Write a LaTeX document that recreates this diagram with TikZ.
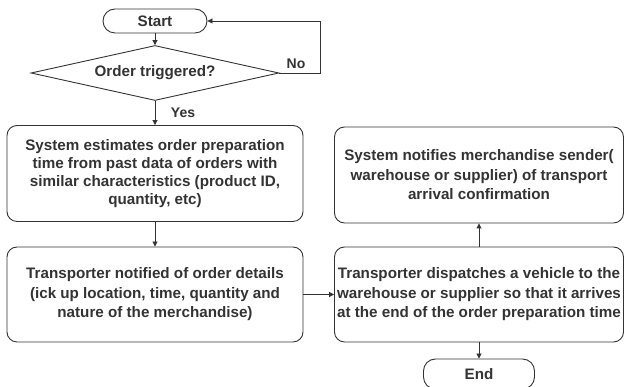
\documentclass[tikz,border=0pt]{standalone}
\usepackage{fontspec}
\setmainfont{Liberation Sans}
\usetikzlibrary{shapes.geometric,arrows.meta}
\definecolor{ink}{HTML}{333333}
\begin{document}
\begin{tikzpicture}[x=1pt,y=1pt,
  every node/.style={text=ink, font=\bfseries\fontsize{15.2}{19.5}\selectfont},
  proc/.style={draw=ink, line width=0.9pt, rounded corners=10pt, align=center, inner sep=0pt},
  term/.style={draw=ink, line width=0.9pt, rounded corners=12pt, inner sep=0pt},
  decis/.style={draw=ink, line width=0.9pt, diamond, aspect=4.5, inner sep=0pt},
  flow/.style={draw=ink, line width=0.9pt, -{Triangle[length=5pt,width=5pt]}},
  lbl/.style={font=\bfseries\fontsize{14}{16}\selectfont}]
\useasboundingbox (0,0) rectangle (625,387);

\node[term, minimum width=104pt, minimum height=24pt] (start) at (155,366) {Start};
\node[decis, minimum width=248pt, minimum height=55pt] (dec) at (155,314) {Order triggered?};
\node[proc, minimum width=296pt, minimum height=96pt,
      font=\bfseries\fontsize{15.2}{17.8}\selectfont] (b1) at (155,213.5)
  {System estimates order preparation\\time from past data of orders with\\similar characteristics (product ID,\\quantity, etc)};
\node[proc, minimum width=296pt, minimum height=95pt] (b2) at (155,92.5)
  {Transporter notified of order details\\(ick up location, time, quantity and\\nature of the merchandise)};
\node[proc, minimum width=289pt, minimum height=95pt] (b3) at (479,92.5)
  {Transporter dispatches a vehicle to the\\warehouse or supplier so that it arrives\\at the end of the order preparation time};
\node[proc, minimum width=289pt, minimum height=96pt] (b4) at (479,212)
  {System notifies merchandise sender(\\warehouse or supplier) of transport\\arrival confirmation};
\node[term, minimum width=111pt, minimum height=30pt] (end) at (479,13) {End};

\coordinate (loop) at (320,366);
\draw[flow] (start.south) -- (dec.north);
\draw[flow] (dec.east) -| (loop) -- (start.east);
\node[lbl] (no) at (296,323) {No};
\node[lbl] (yes) at (183,274) {Yes};
\draw[flow] (dec.south) -- (b1.north);
\draw[flow] (b1.south) -- (b2.north);
\draw[flow] (b2.east) -- (b3.west);
\draw[flow] (b3.north) -- (b4.south);
\draw[flow] (b3.south) -- (end.north);
\end{tikzpicture}
\end{document}
